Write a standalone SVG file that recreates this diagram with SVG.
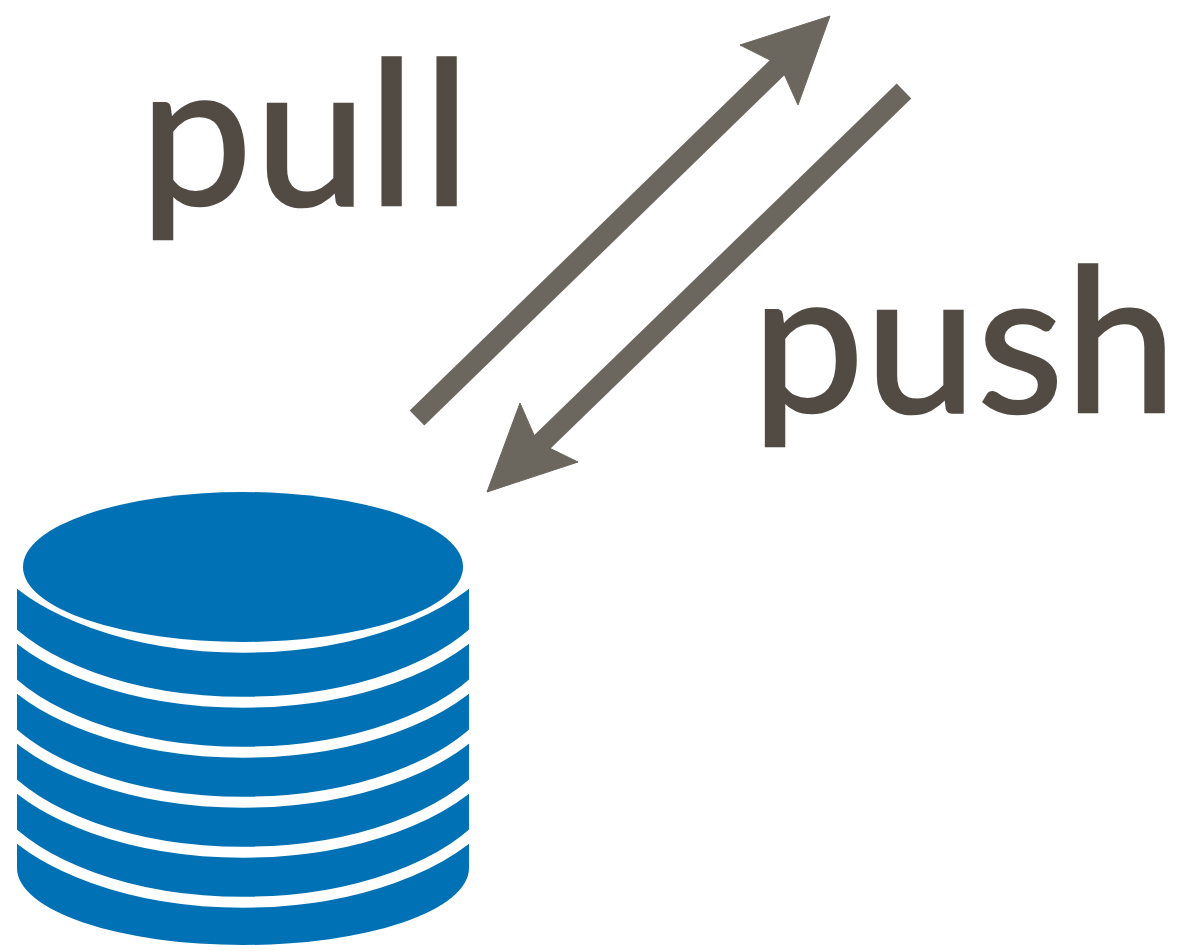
<svg xmlns="http://www.w3.org/2000/svg" width="1193" height="951" viewBox="0 0 1193 951">
<style>
.lbl{font-family:Lato,"Open Sans","Liberation Sans",sans-serif;font-size:200px;fill:#524b43;stroke:#524b43;stroke-width:2.5}
.arr{stroke:#6b665e;stroke-width:21;fill:none}
.head{fill:#6b665e;stroke:#6b665e;stroke-width:1;stroke-linejoin:round}
.band{fill:#0071b5}
.gap{fill:none;stroke:#fff;stroke-width:11}
</style>
<rect width="1193" height="951" fill="#fff"/>
<g id="database">
<path class="band" d="M17 581V868A226 77 0 0 0 469 868V581A270 145 0 0 1 17 581Z"/>
<path class="gap" d="M-7 557A270 145 0 0 0 493 557"/>
<path class="gap" d="M-7 612A270 145 0 0 0 493 612"/>
<path class="gap" d="M-7 662A270 145 0 0 0 493 662"/>
<path class="gap" d="M-7 712A270 145 0 0 0 493 712"/>
<path class="gap" d="M-7 762A270 145 0 0 0 493 762"/>
<path class="gap" d="M-7 812A270 145 0 0 0 493 812"/>
<ellipse class="band" cx="243" cy="567" rx="220" ry="75"/>
</g>
<g id="connectors">
<path class="arr" d="M417 418L785 60"/>
<path class="head" d="M830 16L740 45L780 65L798 105Z"/>
<path class="arr" d="M904 91L535 449"/>
<path class="head" d="M487 492L578 462L537 442L520 403Z"/>
</g>
<g id="pull"><text class="lbl" x="140 255 368 423" y="205">pull</text></g>
<g id="push"><text class="lbl" x="752 865 977 1065" y="412">push</text></g>
</svg>
